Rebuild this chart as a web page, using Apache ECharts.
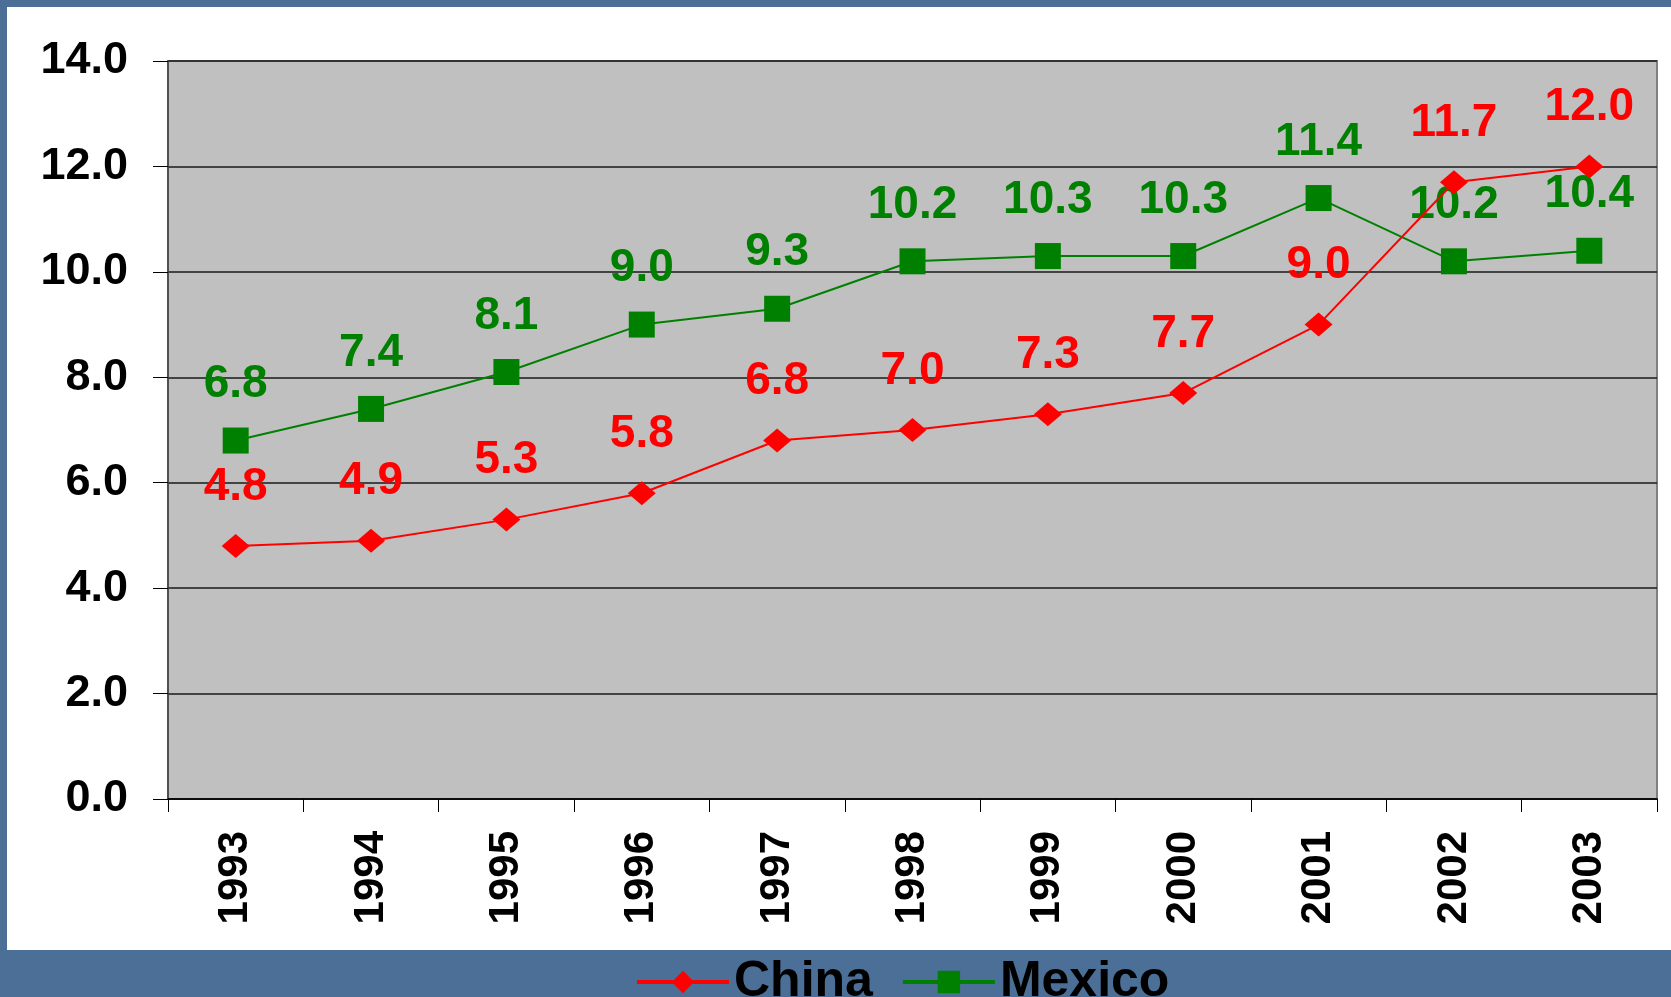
<!DOCTYPE html>
<html>
<head>
<meta charset="utf-8">
<script src="https://cdn.jsdelivr.net/npm/echarts@6/dist/echarts.min.js"></script>
<style>
  html, body { margin: 0; padding: 0; }
  body { width: 1671px; height: 997px; background: #4b6f97; position: relative; overflow: hidden; }
  #paper { position: absolute; left: 7px; top: 7px; width: 1664px; height: 943px; background: #ffffff; }
  #chart { position: absolute; left: 0; top: 0; width: 1671px; height: 997px; }
</style>
</head>
<body>
<div id="paper"></div>
<div id="chart"></div>
<script>
// years on the x axis
const years = ['1993', '1994', '1995', '1996', '1997', '1998', '1999', '2000', '2001', '2002', '2003'];
// values
const chinaValues = [4.8, 4.9, 5.3, 5.8, 6.8, 7.0, 7.3, 7.7, 9.0, 11.7, 12.0];
const mexicoValues = [6.8, 7.4, 8.1, 9.0, 9.3, 10.2, 10.3, 10.3, 11.4, 10.2, 10.4];

const font = 'Liberation Sans, Arial, sans-serif';

let chart = echarts.init(document.getElementById('chart'));
chart.setOption({
  backgroundColor: 'transparent',
  animation: false,
  grid: {
    left: 168,
    top: 61,
    right: 14,
    bottom: 198,
    show: true,
    backgroundColor: '#c0c0c0',
    borderColor: '#808080',
    borderWidth: 2
  },
  legend: {
    data: ['China', 'Mexico'],
    left: 630,
    top: 952,
    itemWidth: 92,
    itemHeight: 28,
    itemGap: 28,
    lineStyle: { width: 4 },
    textStyle: { fontFamily: font, fontWeight: 'bold', fontSize: 50, color: '#000' }
  },
  xAxis: {
    type: 'category',
    data: years,
    boundaryGap: true,
    axisLine: { show: true, lineStyle: { color: '#000', width: 1.5 } },
    axisTick: { show: true, length: 13, lineStyle: { color: '#000', width: 1 } },
    axisLabel: {
      rotate: 90,
      margin: 32,
      fontFamily: font,
      fontWeight: 'bold',
      fontSize: 42,
      color: '#000'
    },
    splitLine: { show: false }
  },
  yAxis: {
    type: 'value',
    min: 0,
    max: 14,
    interval: 2,
    axisLine: { show: true, lineStyle: { color: '#404040', width: 1.5 } },
    axisTick: { show: true, inside: false, length: 15, lineStyle: { color: '#000', width: 1 } },
    axisLabel: {
      margin: 40,
      fontFamily: font,
      fontWeight: 'bold',
      fontSize: 45,
      color: '#000',
      formatter: v => v.toFixed(1)
    },
    splitLine: { show: true, lineStyle: { color: '#1a1a1a', width: 1.5 } }
  },
  series: [
    {
      name: 'China',
      type: 'line',
      data: chinaValues,
      symbol: 'diamond',
      symbolSize: [28, 24],
      color: '#ff0000',
      lineStyle: { color: '#ff0000', width: 2 },
      itemStyle: { color: '#ff0000' },
      label: {
        show: true,
        position: 'top',
        distance: 24,
        fontFamily: font,
        fontWeight: 'bold',
        fontSize: 46,
        color: '#ff0000',
        formatter: p => p.value.toFixed(1)
      },
      z: 3
    },
    {
      name: 'Mexico',
      type: 'line',
      data: mexicoValues,
      symbol: 'rect',
      symbolSize: 26,
      color: '#008000',
      lineStyle: { color: '#008000', width: 2 },
      itemStyle: { color: '#008000' },
      label: {
        show: true,
        position: 'top',
        distance: 20,
        fontFamily: font,
        fontWeight: 'bold',
        fontSize: 46,
        color: '#008000',
        formatter: p => p.value.toFixed(1)
      },
      z: 2
    }
  ]
});
</script>
</body>
</html>
